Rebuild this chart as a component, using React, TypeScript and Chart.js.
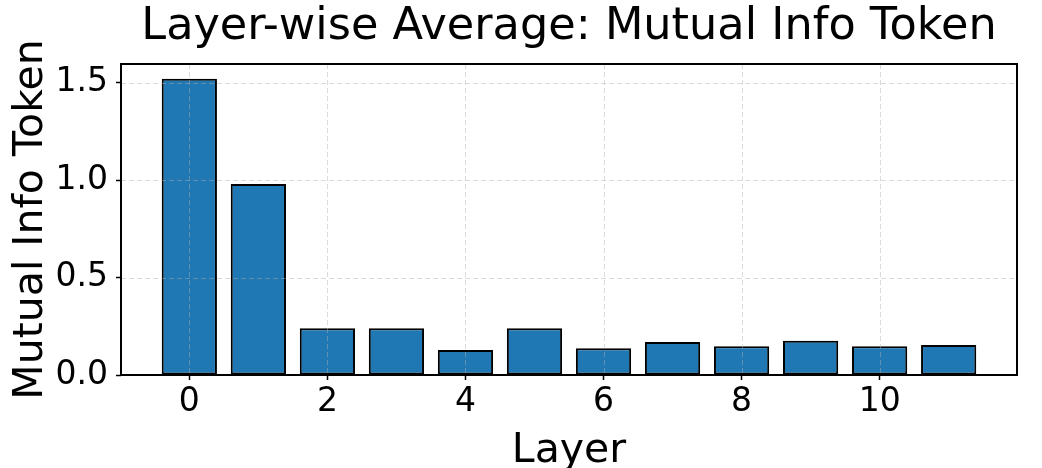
import React, { useEffect, useRef } from 'react';
import { Chart, registerables } from 'chart.js';

Chart.register(...registerables);

const layers = [0, 1, 2, 3, 4, 5, 6, 7, 8, 9, 10, 11];
const values = [1.52, 0.98, 0.24, 0.24, 0.128, 0.24, 0.137, 0.169, 0.147, 0.176, 0.147, 0.154];
const xTicks = [0, 2, 4, 6, 8, 10];
const yTicks = [0, 0.5, 1.0, 1.5];
const titleText = 'Layer-wise Average: Mutual Info Token';
const xLabel = 'Layer';
const yLabel = 'Mutual Info Token';

const FONT = '"DejaVu Sans", sans-serif';

const overlay = {
  id: 'overlay',
  afterDatasetsDraw(chart: any) {
    const { ctx, chartArea: a, scales } = chart;
    const x = scales.x;
    const y = scales.y;
    ctx.save();
    ctx.setLineDash([5, 3]);
    ctx.strokeStyle = 'rgba(176,176,176,0.45)';
    ctx.lineWidth = 1;
    xTicks.forEach((v) => {
      const px = Math.round(x.getPixelForValue(v)) + 0.5;
      ctx.beginPath();
      ctx.moveTo(px, a.top);
      ctx.lineTo(px, a.bottom);
      ctx.stroke();
    });
    yTicks.forEach((v) => {
      const py = Math.round(y.getPixelForValue(v)) + 0.5;
      ctx.beginPath();
      ctx.moveTo(a.left, py);
      ctx.lineTo(a.right, py);
      ctx.stroke();
    });
    ctx.setLineDash([]);
    ctx.strokeStyle = '#000';
    ctx.lineWidth = 2;
    ctx.strokeRect(a.left, a.top, a.right - a.left, a.bottom - a.top);
    ctx.restore();
  },
  afterDraw(chart: any) {
    const { ctx, chartArea: a } = chart;
    const cx = (a.left + a.right) / 2;
    const cy = (a.top + a.bottom) / 2;
    ctx.save();
    ctx.fillStyle = '#000';
    ctx.textAlign = 'center';
    ctx.textBaseline = 'alphabetic';
    ctx.font = `44.6px ${FONT}`;
    ctx.fillText(titleText, cx, 39);
    ctx.font = `41px ${FONT}`;
    ctx.fillText(xLabel, cx, 462);
    ctx.translate(42, cy);
    ctx.rotate(-Math.PI / 2);
    ctx.fillText(yLabel, 0, 0);
    ctx.restore();
  },
};

export default function App() {
  const ref = useRef<HTMLCanvasElement | null>(null);
  useEffect(() => {
    if (!ref.current) return;
    const chart = new Chart(ref.current, {
      type: 'bar',
      data: {
        datasets: [
          {
            data: layers.map((l, i) => ({ x: l, y: values[i] })),
            backgroundColor: '#1f77b4',
            borderColor: '#000',
            borderWidth: 2,
            borderSkipped: false,
            barPercentage: 0.8,
            categoryPercentage: 1.0,
          },
        ],
      },
      options: {
        responsive: false,
        animation: false,
        devicePixelRatio: 1,
        layout: { padding: { top: 64, right: 25, left: 0, bottom: 0 } },
        plugins: { legend: { display: false }, tooltip: { enabled: false }, title: { display: false } },
        scales: {
          x: {
            type: 'linear',
            min: -0.99,
            max: 11.99,
            offset: false,
            afterBuildTicks: (s: any) => {
              s.ticks = xTicks.map((v) => ({ value: v }));
            },
            afterFit: (s: any) => {
              s.height = 93;
            },
            ticks: {
              color: '#000',
              font: { family: FONT, size: 33 },
              padding: 3,
              maxRotation: 0,
              autoSkip: false,
              callback: (v: any) => String(v),
            },
            grid: {
              offset: false,
              color: 'transparent',
              tickColor: '#000',
              tickLength: 5,
              tickWidth: 1.5,
              drawOnChartArea: false,
            },
            border: { display: false },
          },
          y: {
            min: 0,
            max: 1.596,
            afterBuildTicks: (s: any) => {
              s.ticks = yTicks.map((v) => ({ value: v }));
            },
            afterFit: (s: any) => {
              s.width = 121;
            },
            ticks: {
              color: '#000',
              font: { family: FONT, size: 33 },
              padding: 8,
              autoSkip: false,
              callback: (v: any) => Number(v).toFixed(1),
            },
            grid: {
              offset: false,
              color: 'transparent',
              tickColor: '#000',
              tickLength: 5,
              tickWidth: 1.5,
              drawOnChartArea: false,
            },
            border: { display: false },
          },
        },
      },
      plugins: [overlay],
    } as any);
    return () => chart.destroy();
  }, []);
  return (
    <div style={{ position: 'absolute', left: 0, top: 0, width: 1042, height: 468, background: '#fff' }}>
      <canvas ref={ref} width={1042} height={468} style={{ width: 1042, height: 468, display: 'block' }} />
    </div>
  );
}
